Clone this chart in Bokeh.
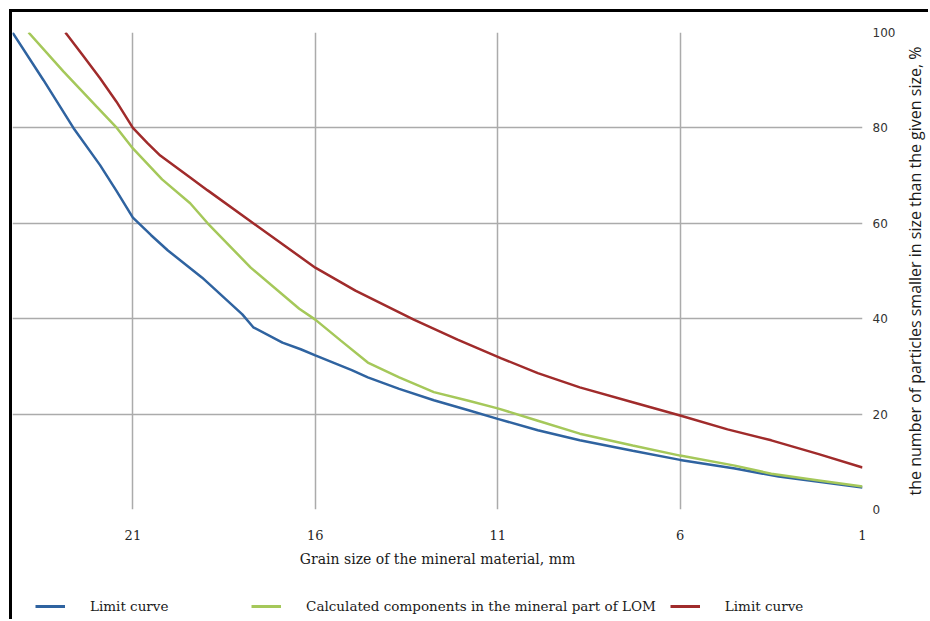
import math
from bokeh.plotting import figure
from bokeh.layouts import column, row
from bokeh.models import Range1d, FixedTicker, Legend, LegendItem, Label
from bokeh.embed import file_html
from bokeh.resources import INLINE

# ---- data ----
x_ticks = [21, 16, 11, 6, 1]
y_ticks = [0, 20, 40, 60, 80, 100]

lower_x = [24.3, 23.45, 22.63, 21.9, 21.45, 21.0, 20.5, 20.04, 19.1, 18.0, 17.7, 16.9,
           16.4, 16.0, 15.0, 14.56, 13.7, 12.75, 11.8, 11.0, 9.9, 8.75, 7.3, 6.0,
           4.5, 3.3, 2.2, 1.0]
lower_y = [100, 90, 80, 72.2, 66.8, 61.2, 57.5, 54.3, 48.6, 40.9, 38.2, 35.0,
           33.6, 32.3, 29.2, 27.7, 25.3, 22.9, 20.8, 19.0, 16.6, 14.5, 12.3, 10.4,
           8.6, 6.9, 5.8, 4.6]

calc_x = [23.86, 22.9, 22.0, 21.44, 21.0, 20.2, 19.43, 18.95, 17.77, 16.44, 16.0,
          15.3, 14.56, 13.7, 12.75, 11.8, 11.0, 9.9, 8.75, 7.3, 6.0, 4.5, 3.5, 2.2, 1.0]
calc_y = [100, 91.8, 84.5, 80, 75.7, 69.2, 64.2, 60, 50.7, 42.1, 39.8,
          35.4, 30.8, 27.7, 24.6, 22.8, 21.2, 18.6, 15.9, 13.4, 11.3, 9.2, 7.5, 6.1, 4.8]

upper_x = [22.85, 22.4, 21.9, 21.45, 21.0, 20.6, 20.25, 19.43, 18.95, 17.7, 16.0,
           14.9, 13.3, 12.1, 10.9, 9.9, 8.75, 7.3, 6.0, 4.7, 3.5, 2.2, 1.0]
upper_y = [100, 95.5, 90.4, 85.5, 80, 76.8, 74.2, 69.6, 66.9, 60, 50.7,
           45.9, 39.8, 35.6, 31.7, 28.6, 25.6, 22.5, 19.7, 16.8, 14.5, 11.6, 8.8]

labels = ["Limit curve", "Calculated components in the mineral part of LOM", "Limit curve"]
colors = ["#2f63a0", "#a5c85a", "#a02b2b"]
series_x = [lower_x, calc_x, upper_x]
series_y = [lower_y, calc_y, upper_y]

x_title = "Grain size of the mineral material, mm"
y_title = "the number of particles smaller in size than the given size, %"

# ---- main figure ----
p = figure(width=886, height=563, output_backend="svg", toolbar_location=None,
           x_range=Range1d(24.3, 1), y_range=Range1d(0, 100),
           x_axis_location="below", y_axis_location="right",
           min_border_left=0, min_border_top=20, min_border_right=36, min_border_bottom=66)
p.outline_line_color = None
p.background_fill_color = "white"

p.xaxis.ticker = FixedTicker(ticks=x_ticks)
p.yaxis.ticker = FixedTicker(ticks=y_ticks)
for g in (p.xgrid, p.ygrid):
    g.grid_line_color = "#ababab"
    g.grid_line_width = 1.5

xa = p.xaxis[0]
xa.axis_line_color = None
xa.major_tick_line_color = None
xa.minor_tick_line_color = None
xa.major_label_standoff = 14
xa.major_label_text_font = "DejaVu Serif"
xa.major_label_text_font_size = "13px"
xa.major_label_text_color = "#262626"
xa.axis_label = x_title
xa.axis_label_standoff = 8
xa.axis_label_text_font = "DejaVu Serif"
xa.axis_label_text_font_size = "14px"
xa.axis_label_text_font_style = "normal"
xa.axis_label_text_color = "#1a1a1a"

ya = p.yaxis[0]
ya.axis_line_color = None
ya.major_tick_line_color = None
ya.minor_tick_line_color = None
ya.major_label_standoff = 4
ya.major_label_text_font = "DejaVu Sans"
ya.major_label_text_font_size = "12px"
ya.major_label_text_color = "#333333"

for xs, ys, c in zip(series_x, series_y, colors):
    p.line(xs, ys, line_color=c, line_width=2.5)

# ---- strip on the right holding the vertical axis title (reads bottom to top) ----
r = figure(width=30, height=563, output_backend="svg", toolbar_location=None,
           x_axis_type=None, y_axis_type=None,
           x_range=Range1d(0, 1), y_range=p.y_range,
           min_border_left=0, min_border_right=0, min_border_top=20, min_border_bottom=66)
r.outline_line_color = None
r.grid.visible = False
r.add_layout(Label(x=16, x_units="screen", y=50, text=y_title, angle=math.pi / 2,
                   text_align="center", text_baseline="middle",
                   text_font="Open Sans", text_font_size="16px", text_color="#1a1a1a"))

# ---- legend strip (legend drawn inside the frame of a small figure) ----
q = figure(width=916, height=44, output_backend="svg", toolbar_location=None,
           x_axis_type=None, y_axis_type=None,
           x_range=Range1d(1000, 1001), y_range=Range1d(1000, 1001),
           min_border_left=0, min_border_right=0, min_border_top=0, min_border_bottom=0)
q.outline_line_color = None
q.grid.visible = False
legend_renderers = [q.line(xs, ys, line_color=c, line_width=3)
                    for xs, ys, c in zip(series_x, series_y, colors)]

legend_labels = [labels[0] + " " * 16, labels[1], labels[2]]
legend = Legend(items=[LegendItem(label=lab, renderers=[rr]) for lab, rr in zip(legend_labels, legend_renderers)],
                location=(23, 3), orientation="horizontal",
                padding=0, margin=0, spacing=14,
                glyph_width=30, glyph_height=20, label_standoff=25,
                label_text_font="DejaVu Serif", label_text_font_size="13.5px",
                label_text_color="#1a1a1a", border_line_color=None,
                background_fill_alpha=0)
q.add_layout(legend)

layout = column(row(p, r, spacing=0), q, spacing=0)
layout.styles = {"border-left": "3px solid black", "border-top": "3px solid black",
                 "margin-left": "9px", "margin-top": "9px"}

open("out.html", "w").write(file_html(layout, INLINE))
